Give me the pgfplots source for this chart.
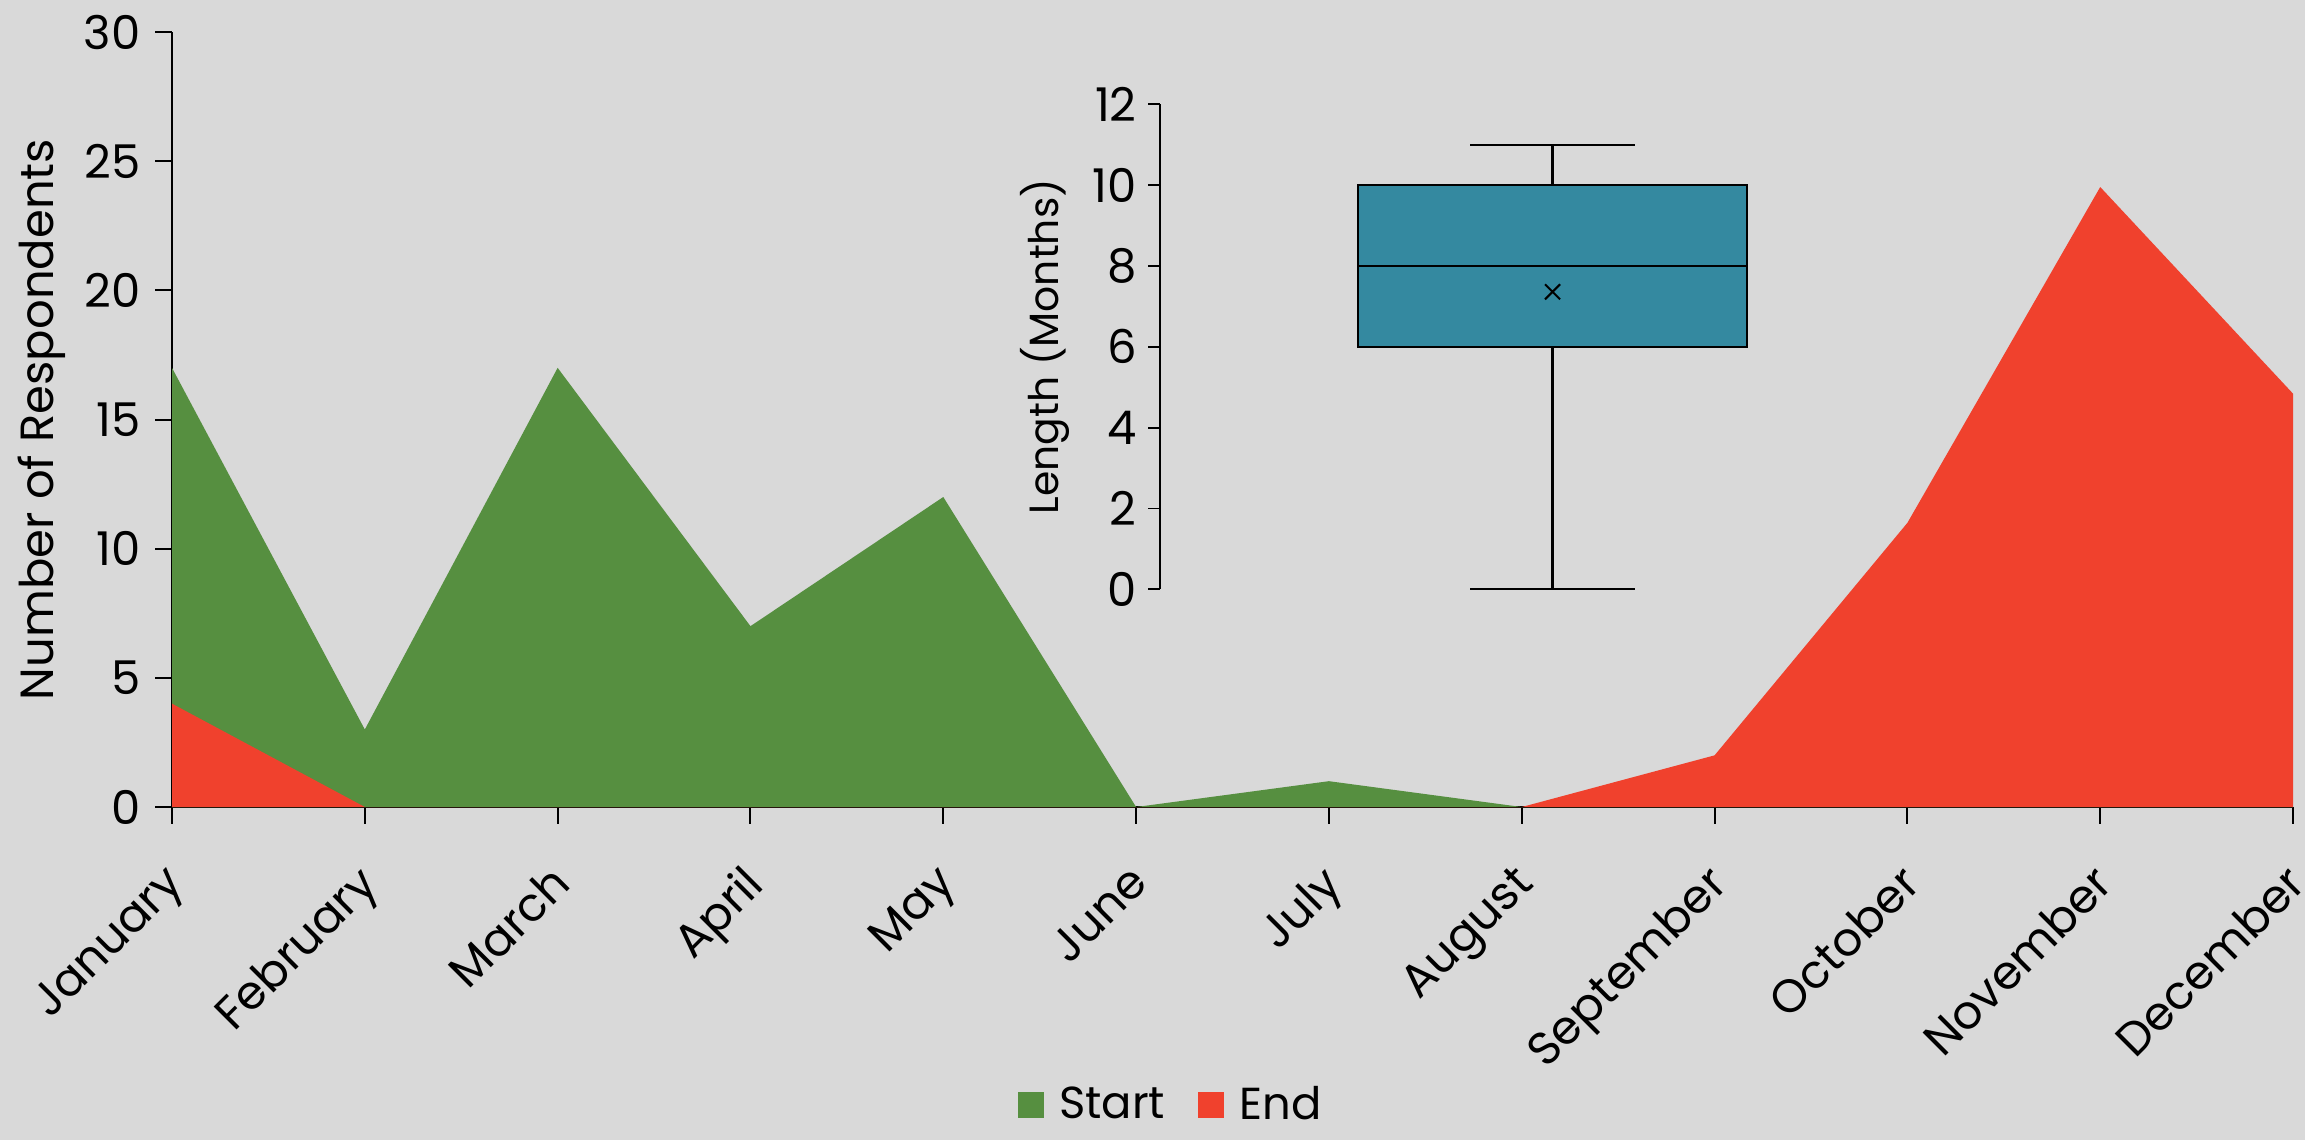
\documentclass[border=0pt]{standalone}
\usepackage{pgfplots}
\pgfplotsset{compat=1.18}
\usepgfplotslibrary{statistics}
\usepackage{fontspec}
\setmainfont{Poppins}
\definecolor{bg}{RGB}{217,217,217}
\definecolor{cgreen}{RGB}{86,143,64}
\definecolor{cred}{RGB}{240,65,45}
\definecolor{cteal}{RGB}{52,137,160}
\begin{document}
\begin{tikzpicture}[x=1bp,y=1bp]
\fill[bg] (0,0) rectangle (691.5,342);
\path[use as bounding box] (0,0) rectangle (691.5,342);
\begin{axis}[
  at={(51.6bp,99.9bp)}, anchor=origin,
  scale only axis, width=636.3bp, height=232.5bp,
  xmin=0, xmax=11, ymin=0, ymax=30,
  axis x line*=bottom, axis y line*=left,
  axis line style={black, line width=0.6pt, -},
  xtick={0,...,11},
  xticklabels={January,February,March,April,May,June,July,August,September,October,November,December},
  ytick={0,5,...,30},
  tick align=outside, major tick length=5bp,
  tick style={black, line width=0.6pt},
  /pgf/number format/assume math mode=true,
  yticklabel style={font=\fontsize{14}{14}\selectfont, xshift=-1bp},
  xticklabel style={font=\fontsize{14}{14}\selectfont, rotate=45, anchor=north east, inner sep=0pt, xshift=-10bp, yshift=-6bp},
  ylabel={Number of Respondents},
  every axis y label/.style={at={(ticklabel cs:0.5)}, rotate=90, anchor=near ticklabel, yshift=-1.4bp, font=\fontsize{14}{14}\selectfont},
  legend style={at={(0.472,-0.385)}, anchor=center, draw=none, fill=none, legend columns=2, font=\fontsize{13.5}{13.5}\selectfont, /tikz/every even column/.append style={column sep=8bp}, /tikz/every odd column/.append style={column sep=2.5bp}},
  legend image code/.code={\fill[#1] (0bp,-3.9bp) rectangle (7.8bp,3.9bp);},
  clip=false,
]
\addplot[fill=cgreen, draw=none] coordinates {(0,17) (1,3) (2,17) (3,7) (4,12) (5,0) (6,1) (7,0) (8,0) (9,0) (10,0) (11,0)} \closedcycle;
\addlegendentry{Start}
\addplot[fill=cred, draw=none] coordinates {(0,4) (1,0) (2,0) (3,0) (4,0) (5,0) (6,0) (7,0) (8,2) (9,11) (10,24) (11,16)} \closedcycle;
\addlegendentry{End}
\end{axis}
\begin{axis}[
  at={(348bp,165.2bp)}, anchor=origin,
  scale only axis, width=235.5bp, height=145.5bp,
  xmin=0, xmax=2, ymin=0, ymax=12,
  axis x line=none, axis y line*=left,
  axis line style={black, line width=0.6pt, -},
  ytick={0,2,...,12},
  tick align=outside, major tick length=3.5bp,
  tick style={black, line width=0.6pt},
  /pgf/number format/assume math mode=true,
  yticklabel style={font=\fontsize{14}{14}\selectfont},
  ylabel={Length (Months)},
  every axis y label/.style={at={(ticklabel cs:0.5)}, rotate=90, anchor=near ticklabel, font=\fontsize{12.3}{12.3}\selectfont},
  clip=false,
]
\addplot[fill=cteal, draw=black, line width=0.7pt,
  boxplot/draw direction=y,
  boxplot prepared={median=8, upper quartile=10, lower quartile=6, upper whisker=11, lower whisker=0, draw position=1, box extend=0.99, whisker extend=0.42}]
  coordinates {};
\addplot[only marks, mark=x, mark size=3.2bp, black, line width=0.6pt] coordinates {(1,7.36)};
\end{axis}
\end{tikzpicture}
\end{document}
